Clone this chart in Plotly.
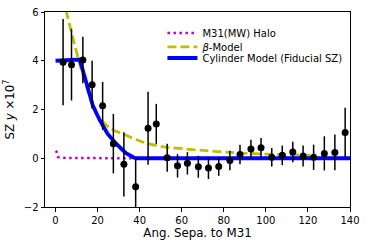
import plotly.graph_objects as go

# Observed data points
sep = [3.6, 7.6, 13.0, 17.4, 22.4, 27.5, 32.5, 38.1, 44.0, 47.9, 53.1, 58.0, 62.7, 67.9,
       72.7, 77.6, 82.9, 87.7, 92.9, 97.7, 102.8, 107.8, 112.8, 117.7, 122.7, 127.8, 132.8, 137.7]
sz = [3.94, 3.84, 4.03, 3.02, 2.15, 0.60, -0.25, -1.17, 1.23, 1.41, 0.02, -0.31, -0.21, -0.35,
      -0.40, -0.34, -0.09, 0.15, 0.38, 0.43, 0.04, 0.12, 0.26, 0.09, 0.04, 0.20, 0.24, 1.06]
sz_err = [1.77, 1.47, 0.95, 0.98, 0.98, 1.22, 1.32, 1.20, 1.50, 0.82, 0.57, 0.48, 0.46, 0.45,
          0.45, 0.38, 0.40, 0.40, 0.38, 0.40, 0.38, 0.40, 0.42, 0.43, 0.52, 0.70, 0.73, 1.01]

# Model curves
halo_x = [0.0, 0.5, 1.2, 5.0, 38.0]
halo_y = [0.30, 0.27, 0.05, 0.01, 0.0]

beta_x = [4.0, 5.2, 8.3, 11.5, 14.6, 19.3, 25.6, 31.9, 38.9, 44.0, 53.0, 62.0, 70.0, 83.0, 100.0, 121.0]
beta_y = [6.6, 6.0, 4.92, 3.87, 2.96, 1.85, 1.25, 1.0, 0.75, 0.60, 0.45, 0.38, 0.32, 0.24, 0.17, 0.12]

cyl_x = [0.0, 11.5, 13.0, 15.4, 17.7, 20.9, 24.8, 28.8, 33.5, 37.4, 38.5, 140.0]
cyl_y = [4.0, 4.05, 3.6, 2.82, 2.17, 1.58, 1.0, 0.6, 0.21, 0.02, 0.0, 0.0]

x_ticks = [0, 20, 40, 60, 80, 100, 120, 140]
y_ticks = [-2, 0, 2, 4, 6]

FONT = "DejaVu Sans"

fig = go.Figure()
fig.add_trace(go.Scatter(x=halo_x, y=halo_y, mode="lines", name="M31(MW) Halo", legend="legend",
                         line=dict(color="#BF00BF", width=2.5, dash="2.5px,3.5px")))
fig.add_trace(go.Scatter(x=beta_x, y=beta_y, mode="lines", name="<i>β</i>-Model", legend="legend2",
                         line=dict(color="#BFBF00", width=2.8, dash="9px,4px", shape="spline", smoothing=0.8)))
fig.add_trace(go.Scatter(x=cyl_x, y=cyl_y, mode="lines", name="Cylinder Model (Fiducial SZ)", legend="legend3",
                         line=dict(color="#0000FF", width=3.8)))
fig.add_trace(go.Scatter(x=sep, y=sz, mode="markers", showlegend=False,
                         marker=dict(color="black", size=7),
                         error_y=dict(type="data", array=sz_err, color="black", thickness=1.5, width=0)))

leg = dict(x=0.385, xanchor="left", yanchor="middle", bgcolor="rgba(0,0,0,0)",
           borderwidth=0, font=dict(size=10, family=FONT, color="black"))
fig.update_layout(
    width=366, height=244,
    margin=dict(l=45, r=13, t=6, b=34),
    paper_bgcolor="white", plot_bgcolor="white",
    font=dict(family=FONT, size=10, color="black"),
    legend=dict(leg, y=0.892),
    legend2=dict(leg, y=0.821),
    legend3=dict(leg, y=0.764),
)
fig.update_xaxes(range=[-5, 140], tickvals=x_ticks, showgrid=False, zeroline=False,
                 showline=True, linecolor="black", linewidth=1, mirror=True,
                 ticks="outside", ticklen=3.5, tickcolor="black",
                 title=dict(text="Ang. Sepa. to M31", font=dict(size=11.8), standoff=4))
fig.update_yaxes(range=[-2, 6], tickvals=y_ticks, showgrid=False, zeroline=False,
                 showline=True, linecolor="black", linewidth=1, mirror=True,
                 ticks="outside", ticklen=3.5, tickcolor="black",
                 title=dict(text="SZ <i>y</i> ×10<sup>7</sup>", font=dict(size=11.8), standoff=6))

fig.write_html("out.html", config={"displayModeBar": False},
               post_script="document.body.style.margin='0';")
